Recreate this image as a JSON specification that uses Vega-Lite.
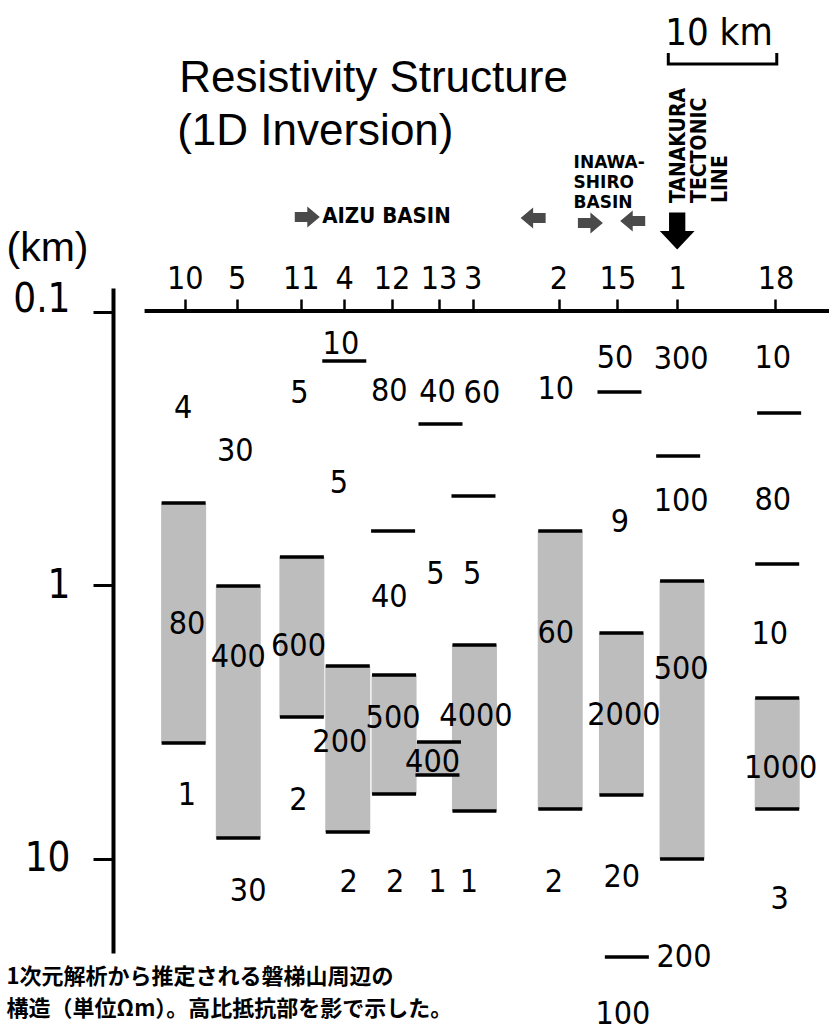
{
  "$schema": "https://vega.github.io/schema/vega-lite/v6.json",
  "width": 721,
  "height": 665,
  "autosize": {"type": "none"},
  "padding": {"left": 113, "top": 288, "right": 0, "bottom": 80},
  "background": "white",
  "config": {"view": {"stroke": null}},
  "datasets": {
    "bars": [
      {"st": "10", "x": 6.05, "d": 0.4994, "d2": 3.766},
      {"st": "5", "x": 11.09, "d": 1.004, "d2": 8.379},
      {"st": "11", "x": 16.95, "d": 0.7866, "d2": 3.026},
      {"st": "4", "x": 21.18, "d": 1.969, "d2": 7.966},
      {"st": "12", "x": 25.45, "d": 2.124, "d2": 5.784},
      {"st": "13", "x": 29.59, "d": 3.734, "d2": 4.931},
      {"st": "3", "x": 32.86, "d": 1.65, "d2": 6.677},
      {"st": "2", "x": 40.77, "d": 0.6321, "d2": 6.566},
      {"st": "15", "x": 46.41, "d": 1.492, "d2": 5.834},
      {"st": "1", "x": 52.0, "d": 0.9627, "d2": 10.0},
      {"st": "18", "x": 60.77, "d": 2.578, "d2": 6.566}
    ],
    "bounds": [
      {"st": "10", "x": 6.05, "d": 0.4994}, {"st": "10", "x": 6.05, "d": 3.766},
      {"st": "5", "x": 11.09, "d": 1.004}, {"st": "5", "x": 11.09, "d": 8.379},
      {"st": "11", "x": 16.95, "d": 0.7866}, {"st": "11", "x": 16.95, "d": 3.026},
      {"st": "4", "x": 20.86, "d": 0.151}, {"st": "4", "x": 21.18, "d": 1.969}, {"st": "4", "x": 21.18, "d": 7.966},
      {"st": "12", "x": 25.36, "d": 0.6321}, {"st": "12", "x": 25.45, "d": 2.124}, {"st": "12", "x": 25.45, "d": 5.784},
      {"st": "13", "x": 29.73, "d": 0.2567}, {"st": "13", "x": 29.59, "d": 3.734}, {"st": "13", "x": 29.45, "d": 4.931},
      {"st": "3", "x": 32.77, "d": 0.4709}, {"st": "3", "x": 32.86, "d": 1.65}, {"st": "3", "x": 32.86, "d": 6.677},
      {"st": "2", "x": 40.77, "d": 0.6321}, {"st": "2", "x": 40.77, "d": 6.566},
      {"st": "15", "x": 46.23, "d": 0.1962}, {"st": "15", "x": 46.41, "d": 1.492}, {"st": "15", "x": 46.41, "d": 5.834}, {"st": "15", "x": 46.91, "d": 22.82},
      {"st": "1", "x": 51.64, "d": 0.3361}, {"st": "1", "x": 52.0, "d": 0.9627}, {"st": "1", "x": 52.0, "d": 10.0},
      {"st": "18", "x": 60.95, "d": 0.234}, {"st": "18", "x": 60.77, "d": 0.8346}, {"st": "18", "x": 60.77, "d": 2.578}, {"st": "18", "x": 60.77, "d": 6.566}
    ],
    "rho": [
      {"st": "10", "x": 6.0, "d": 0.2244, "t": "4"}, {"st": "10", "x": 6.36, "d": 1.383, "t": "80"}, {"st": "10", "x": 6.36, "d": 5.834, "t": "1"},
      {"st": "5", "x": 10.82, "d": 0.3223, "t": "30"}, {"st": "5", "x": 11.09, "d": 1.826, "t": "400"}, {"st": "5", "x": 12.0, "d": 13.09, "t": "30"},
      {"st": "11", "x": 16.73, "d": 0.1978, "t": "5"}, {"st": "11", "x": 16.64, "d": 1.664, "t": "600"}, {"st": "11", "x": 16.64, "d": 6.084, "t": "2"},
      {"st": "4", "x": 20.55, "d": 0.1309, "t": "10"}, {"st": "4", "x": 20.36, "d": 0.4218, "t": "5"}, {"st": "4", "x": 20.45, "d": 3.734, "t": "200"}, {"st": "4", "x": 21.27, "d": 12.14, "t": "2"},
      {"st": "12", "x": 25.0, "d": 0.1944, "t": "80"}, {"st": "12", "x": 25.0, "d": 1.102, "t": "40"}, {"st": "12", "x": 25.36, "d": 3.051, "t": "500"}, {"st": "12", "x": 25.55, "d": 12.14, "t": "2"},
      {"st": "13", "x": 29.45, "d": 0.1961, "t": "40"}, {"st": "13", "x": 29.27, "d": 0.9078, "t": "5"}, {"st": "13", "x": 29.0, "d": 4.419, "t": "400"}, {"st": "13", "x": 29.45, "d": 12.14, "t": "1"},
      {"st": "3", "x": 33.55, "d": 0.1978, "t": "60"}, {"st": "3", "x": 32.64, "d": 0.9078, "t": "5"}, {"st": "3", "x": 33.0, "d": 3.0, "t": "4000"}, {"st": "3", "x": 32.36, "d": 12.14, "t": "1"},
      {"st": "2", "x": 40.36, "d": 0.1912, "t": "10"}, {"st": "2", "x": 40.36, "d": 1.492, "t": "60"}, {"st": "2", "x": 40.18, "d": 12.14, "t": "2"},
      {"st": "15", "x": 45.82, "d": 0.1473, "t": "50"}, {"st": "15", "x": 46.27, "d": 0.5859, "t": "9"}, {"st": "15", "x": 46.64, "d": 2.975, "t": "2000"}, {"st": "15", "x": 46.45, "d": 11.64, "t": "20"}, {"st": "15", "x": 52.18, "d": 22.82, "t": "200"}, {"st": "15", "x": 46.55, "d": 36.87, "t": "100"},
      {"st": "1", "x": 51.91, "d": 0.1485, "t": "300"}, {"st": "1", "x": 51.91, "d": 0.4909, "t": "100"}, {"st": "1", "x": 51.91, "d": 2.02, "t": "500"},
      {"st": "18", "x": 60.36, "d": 0.1473, "t": "10"}, {"st": "18", "x": 60.36, "d": 0.4868, "t": "80"}, {"st": "18", "x": 60.09, "d": 1.504, "t": "10"}, {"st": "18", "x": 61.09, "d": 4.648, "t": "1000"}, {"st": "18", "x": 61.0, "d": 14.01, "t": "3"}
    ]
  },
  "encoding": {
    "x": {
      "field": "x", "type": "quantitative",
      "scale": {"domain": [0, 65.545], "nice": false, "zero": false},
      "axis": {
        "orient": "top", "offset": -24, "title": null, "grid": false, "domain": false,
        "values": [6.15, 10.94, 16.85, 20.85, 25.22, 29.55, 32.69, 40.61, 46.04, 51.55, 60.61],
        "labelExpr": "datum.value < 8 ? '10' : datum.value < 13 ? '5' : datum.value < 18 ? '11' : datum.value < 23 ? '4' : datum.value < 27 ? '12' : datum.value < 31 ? '13' : datum.value < 36 ? '3' : datum.value < 43 ? '2' : datum.value < 49 ? '15' : datum.value < 55 ? '1' : '18'",
        "tickColor": "black", "tickWidth": 2.5, "tickSize": 13,
        "labelFont": "DejaVu Sans Condensed, Liberation Sans, sans-serif", "labelFontSize": 32, "labelColor": "black",
        "labelPadding": 4, "labelFlush": false, "labelOverlap": false, "labelBound": false
      }
    },
    "y": {
      "field": "d", "type": "quantitative",
      "scale": {"type": "log", "domain": [0.08173, 22.07], "nice": false, "reverse": true},
      "axis": {
        "orient": "left", "title": "(km)", "values": [0.1, 1, 10], "format": "~g", "grid": false,
        "domainColor": "black", "domainWidth": 4, "tickColor": "black", "tickWidth": 3, "tickSize": 20,
        "labelFont": "DejaVu Sans Condensed, Liberation Sans, sans-serif", "labelFontSize": 40, "labelColor": "black", "labelPadding": 23,
        "labelBaseline": "middle", "labelOffset": {"condition": {"test": "datum.value < 0.5", "value": -12}, "value": 0},
        "labelFlush": false, "labelOverlap": false, "labelBound": false,
        "titleFont": "Liberation Sans, sans-serif", "titleFontSize": 41, "titleFontWeight": "normal", "titleColor": "black",
        "titleAngle": 0, "titleAlign": "center", "titleBaseline": "middle", "titleX": -66, "titleY": -40
      }
    }
  },
  "layer": [
    {
      "data": {"name": "bars"},
      "mark": {"type": "bar", "width": 45, "fill": "#bdbdbd"},
      "encoding": {"y2": {"field": "d2"}}
    },
    {
      "data": {"name": "bounds"},
      "mark": {"type": "tick", "orient": "horizontal", "size": 44, "thickness": 3.5, "color": "black", "opacity": 1}
    },
    {
      "data": {"name": "rho"},
      "mark": {"type": "text", "font": "DejaVu Sans Condensed, Liberation Sans, sans-serif", "fontSize": 32, "align": "center", "baseline": "middle", "color": "black"},
      "encoding": {"text": {"field": "t"}}
    },
    {
      "data": {"values": [{"x": 2.45, "x2": 65.545, "d": 0.0992}]},
      "mark": {"type": "rule", "strokeWidth": 4, "color": "black"},
      "encoding": {"x2": {"field": "x2"}}
    },
    {
      "data": {"values": [
        {"x": 5.636, "d": 0.01569, "t": "Resistivity Structure"},
        {"x": 5.455, "d": 0.02452, "t": "(1D Inversion)"}
      ]},
      "mark": {"type": "text", "font": "Liberation Sans, sans-serif", "fontSize": 44, "align": "left", "baseline": "alphabetic", "color": "black"},
      "encoding": {"text": {"field": "t"}}
    },
    {
      "data": {"values": [{"x": 50.45, "d": 0.01056, "t": "10 km"}]},
      "mark": {"type": "text", "font": "DejaVu Sans Condensed, Liberation Sans, sans-serif", "fontSize": 38, "align": "left", "baseline": "alphabetic", "color": "black"},
      "encoding": {"text": {"field": "t"}}
    },
    {
      "data": {"values": [
        {"x": 50.73, "d": 0.0113, "o": 1},
        {"x": 50.73, "d": 0.01239, "o": 2},
        {"x": 60.73, "d": 0.01239, "o": 3},
        {"x": 60.73, "d": 0.0113, "o": 4}
      ]},
      "mark": {"type": "line", "strokeWidth": 3, "color": "black"},
      "encoding": {"order": {"field": "o", "type": "quantitative"}}
    },
    {
      "data": {"values": [{"x": 17.45, "d": 0.04495}, {"x": 43.55, "d": 0.04726}]},
      "mark": {"type": "point", "shape": "M-1,-0.4L0,-0.4L0,-0.84L1,0L0,0.84L0,0.4L-1,0.4Z", "filled": true, "size": 625, "color": "#4a4a4a", "opacity": 1}
    },
    {
      "data": {"values": [{"x": 38.27, "d": 0.04532}, {"x": 47.45, "d": 0.04647}]},
      "mark": {"type": "point", "shape": "M1,-0.4L0,-0.4L0,-0.84L-1,0L0,0.84L0,0.4L1,0.4Z", "filled": true, "size": 625, "color": "#4a4a4a", "opacity": 1}
    },
    {
      "data": {"values": [{"x": 51.55, "d": 0.05055}]},
      "mark": {"type": "point", "shape": "M-0.44,-1L0.44,-1L0.44,0L0.94,0L0,1L-0.94,0L-0.44,0Z", "filled": true, "size": 1369, "color": "black", "opacity": 1}
    },
    {
      "data": {"values": [{"x": 18.82, "d": 0.04726, "t": "AIZU BASIN"}]},
      "mark": {"type": "text", "font": "DejaVu Sans Condensed, DejaVu Sans, sans-serif", "fontWeight": "bold", "fontSize": 22, "align": "left", "baseline": "alphabetic", "color": "black"},
      "encoding": {"text": {"field": "t"}}
    },
    {
      "data": {"values": [{"x": 42.0, "d": 0.02975, "t": "INAWA-\nSHIRO\nBASIN"}]},
      "mark": {"type": "text", "lineBreak": "\n", "lineHeight": 20, "font": "DejaVu Sans, sans-serif", "fontWeight": "bold", "fontSize": 17, "align": "left", "baseline": "alphabetic", "color": "black"},
      "encoding": {"text": {"field": "t"}}
    },
    {
      "data": {"values": [{"x": 52.27, "d": 0.03995, "t": "TANAKURA\nTECTONIC\nLINE"}]},
      "mark": {"type": "text", "lineBreak": "\n", "lineHeight": 21, "angle": 270, "font": "DejaVu Sans Condensed, DejaVu Sans, sans-serif", "fontWeight": "bold", "fontSize": 21, "align": "left", "baseline": "alphabetic", "color": "black"},
      "encoding": {"text": {"field": "t"}}
    },
    {
      "data": {"values": [
        {"x": -10.27, "d": 27.0, "t": "1次元解析から推定される磐梯山周辺の"},
        {"x": -10.27, "d": 35.35, "t": "構造（単位Ωm）。高比抵抗部を影で示した。"}
      ]},
      "mark": {"type": "text", "font": "Noto Sans CJK JP", "fontWeight": "bold", "fontSize": 22, "align": "left", "baseline": "middle", "color": "black"},
      "encoding": {"text": {"field": "t"}}
    }
  ]
}
